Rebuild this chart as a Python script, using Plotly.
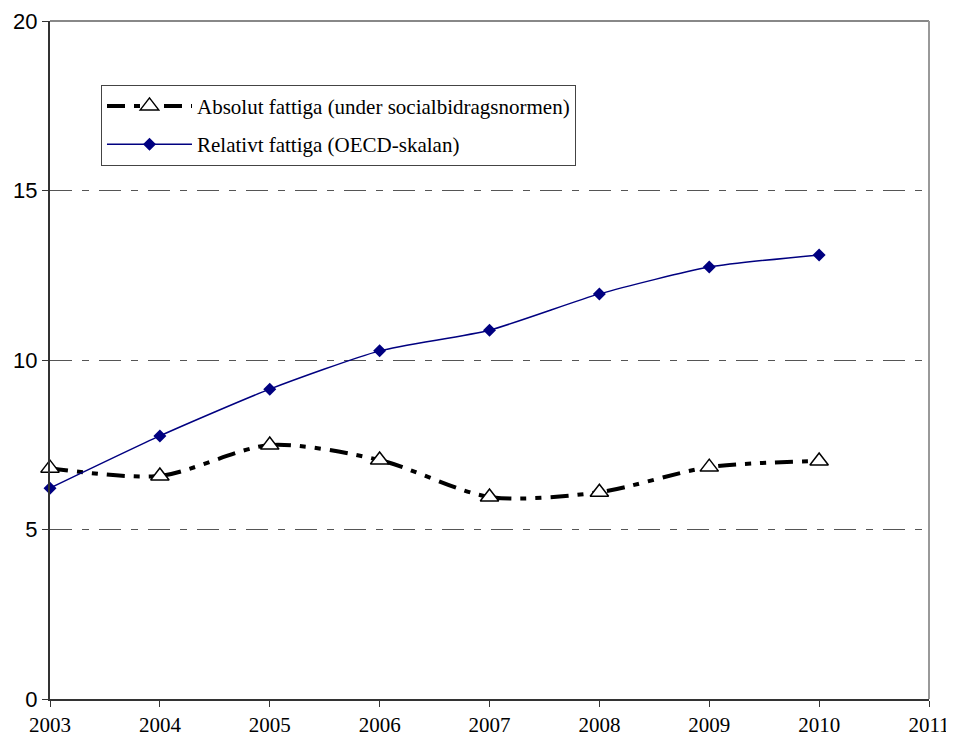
import plotly.graph_objects as go

years = [2003, 2004, 2005, 2006, 2007, 2008, 2009, 2010]
absolut = [6.81, 6.58, 7.49, 7.05, 5.96, 6.10, 6.84, 7.02]
relativ = [6.22, 7.76, 9.14, 10.27, 10.88, 11.95, 12.74, 13.10]
x_ticks = [2003, 2004, 2005, 2006, 2007, 2008, 2009, 2010, 2011]
y_ticks = [0, 5, 10, 15, 20]

fig = go.Figure()
fig.add_trace(go.Scatter(
    x=years, y=absolut, mode="lines+markers",
    name="Absolut fattiga (under socialbidragsnormen)",
    legendgroup="a",
    line=dict(color="black", width=4, dash="18px,9px,6px,9px,6px,9px", shape="spline", smoothing=0.8),
    marker=dict(symbol="triangle-up", size=16, color="white", line=dict(color="black", width=1.5)),
    cliponaxis=False,
))
fig.add_trace(go.Scatter(
    x=years, y=relativ, mode="lines+markers",
    name="Relativt fattiga (OECD-skalan)",
    legendgroup="b",
    line=dict(color="#000080", width=1.5, shape="spline", smoothing=0.6),
    marker=dict(symbol="diamond", size=10, color="#000080"),
    cliponaxis=False,
))

fig.update_layout(
    width=946, height=737,
    margin=dict(l=42, r=25, t=13, b=46),
    paper_bgcolor="white", plot_bgcolor="white",
    showlegend=True,
    legend=dict(
        x=0.058, y=0.906, xanchor="left", yanchor="top",
        bgcolor="white", bordercolor="#444", borderwidth=1,
        font=dict(family="Liberation Serif", size=21, color="black"),
        traceorder="grouped", tracegroupgap=8, itemwidth=85,
    ),
    xaxis=dict(
        range=[2003, 2011], tickvals=x_ticks, ticktext=[str(v) for v in x_ticks],
        showgrid=False, zeroline=False, showline=True, linecolor="#333", linewidth=2,
        ticks="outside", ticklen=6, tickcolor="#333", automargin=False,
        tickfont=dict(family="Liberation Serif", size=21, color="black"),
    ),
    yaxis=dict(
        range=[0, 20], tickvals=y_ticks,
        showgrid=True, gridcolor="#555", gridwidth=1, griddash="22px,10px,7px,10px",
        zeroline=False, showline=True, linecolor="#333", linewidth=2,
        ticks="outside", ticklen=6, tickcolor="#333", automargin=False,
        tickfont=dict(family="Liberation Sans", size=22, color="black"),
    ),
    shapes=[
        dict(type="line", xref="paper", yref="paper", x0=0, x1=1, y0=1, y1=1,
             line=dict(color="#888", width=2)),
        dict(type="line", xref="paper", yref="paper", x0=1, x1=1, y0=0, y1=1,
             line=dict(color="#999", width=2)),
    ],
)

fig.write_html("out.html")
